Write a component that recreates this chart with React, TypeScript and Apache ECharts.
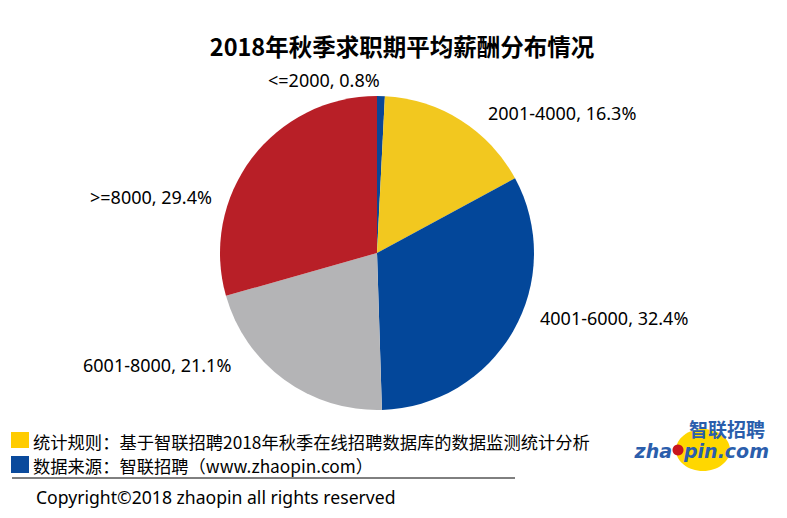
import React, { useEffect, useRef } from "react";
import * as echarts from "echarts";

const title = "2018年秋季求职期平均薪酬分布情况";
const categories = ["<=2000", "2001-4000", "4001-6000", "6001-8000", ">=8000"];
const shares = [0.8, 16.3, 32.4, 21.1, 29.4];
const colors = ["#0A4795", "#F2C81F", "#03479A", "#B4B4B6", "#B81F27"];
const labelAnchors = [
  [268, 80],
  [488, 113],
  [540, 318],
  [83, 365],
  [90, 197],
];
const noteRule = "统计规则：基于智联招聘2018年秋季在线招聘数据库的数据监测统计分析";
const noteSource = "数据来源：智联招聘（www.zhaopin.com）";
const copyright = "Copyright©2018 zhaopin all rights reserved";

const FONT = "'Noto Sans CJK SC', 'Noto Sans', sans-serif";
const LATIN = "'Noto Sans', 'Noto Sans CJK SC', sans-serif";

export default function App() {
  const ref = useRef<HTMLDivElement>(null);
  useEffect(() => {
    document.body.style.margin = "0";
    const chart = echarts.init(ref.current!, null, { renderer: "svg" });
    chart.setOption({
      animation: false,
      backgroundColor: "#ffffff",
      title: {
        text: title,
        left: 397,
        textAlign: "center",
        top: 29,
        textStyle: { fontFamily: FONT, fontSize: 23.5, fontWeight: "bold", color: "#000" },
      },
      series: [
        {
          type: "pie",
          center: [377, 253],
          radius: 157,
          startAngle: 90,
          clockwise: true,
          avoidLabelOverlap: false,
          data: categories.map((c, i) => ({
            name: c,
            value: shares[i],
            itemStyle: { color: colors[i] },
          })),
          label: {
            show: true,
            position: "outside",
            fontFamily: LATIN,
            fontSize: 18,
            color: "#000",
            formatter: (p: any) => `${p.name}, ${Number(p.value).toFixed(1)}%`,
          },
          labelLine: { show: false },
          labelLayout: (p: any) => ({
            x: labelAnchors[p.dataIndex][0],
            y: labelAnchors[p.dataIndex][1],
            align: "left",
            verticalAlign: "middle",
          }),
        },
      ],
      graphic: [
        { type: "rect", shape: { x: 11, y: 432, width: 18, height: 16 }, style: { fill: "#FFCC00" } },
        { type: "rect", shape: { x: 11, y: 456, width: 18, height: 17 }, style: { fill: "#0A4A9C" } },
        {
          type: "text",
          x: 33,
          y: 441,
          style: { text: noteRule, font: `17.3px ${FONT}`, fill: "#000", verticalAlign: "middle" },
        },
        {
          type: "text",
          x: 33,
          y: 465,
          style: { text: noteSource, font: `17.3px ${FONT}`, fill: "#000", verticalAlign: "middle" },
        },
        { type: "line", shape: { x1: 12, y1: 478, x2: 515, y2: 478 }, style: { stroke: "#000", lineWidth: 1 } },
        {
          type: "text",
          x: 36,
          y: 497,
          style: { text: copyright, font: `17.6px ${LATIN}`, fill: "#000", verticalAlign: "middle" },
        },
        // logo
        { type: "ellipse", shape: { cx: 703, cy: 450, rx: 27, ry: 21 }, style: { fill: "#FFD700" } },
        {
          type: "text",
          x: 727,
          y: 428,
          style: {
            text: "智联招聘",
            font: `bold 19px ${FONT}`,
            lineHeight: 18,
            fill: "#2B5EAC",
            align: "center",
            verticalAlign: "middle",
          },
        },
        {
          type: "text",
          x: 672,
          y: 451,
          style: {
            text: "zha",
            font: "italic bold 19px 'DejaVu Sans', sans-serif",
            lineHeight: 18,
            fill: "#2B5EAC",
            align: "right",
            verticalAlign: "middle",
          },
        },
        { type: "circle", shape: { cx: 678, cy: 450, r: 5.5 }, style: { fill: "#C8161D" } },
        {
          type: "text",
          x: 684,
          y: 451,
          style: {
            text: "pin.com",
            font: "italic bold 19px 'DejaVu Sans', sans-serif",
            lineHeight: 18,
            fill: "#2B5EAC",
            align: "left",
            verticalAlign: "middle",
          },
        },
      ],
    });
    return () => chart.dispose();
  }, []);
  return <div ref={ref} style={{ width: 787, height: 518 }} />;
}
